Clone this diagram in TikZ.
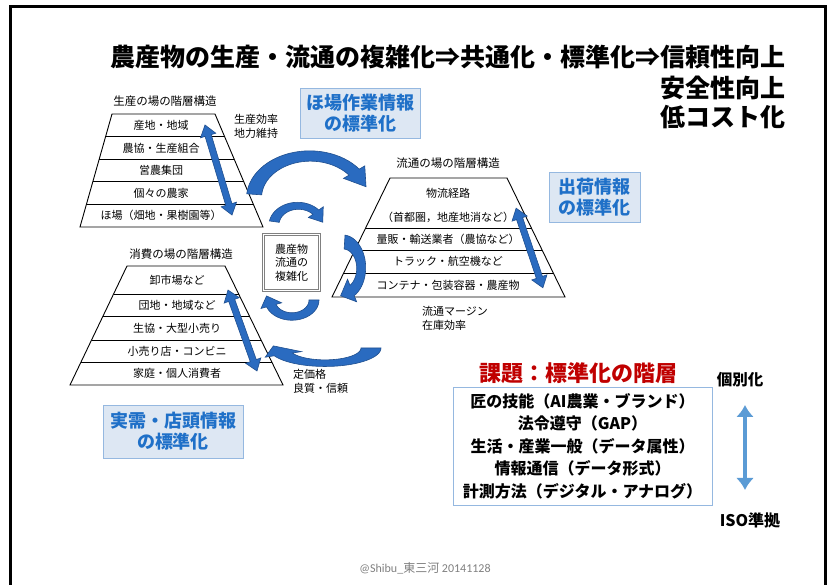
\documentclass[tikz,border=0pt]{standalone}
\usepackage{fontspec}
\setmainfont{Noto Sans CJK JP}
\newfontfamily\carlito{Carlito}
\usetikzlibrary{calc,arrows.meta}
\definecolor{arrowblue}{HTML}{2A6BC0}
\definecolor{arrowedge}{HTML}{1F4F8F}
\definecolor{boxfill}{HTML}{DDE7F3}
\definecolor{boxedge}{HTML}{95B8E0}
\definecolor{boxtext}{HTML}{1F70C8}
\definecolor{lightarrow}{HTML}{5B9BD5}
\definecolor{titlered}{HTML}{C00000}
\tikzset{
 pyr/.style={draw=black, line width=0.9pt, fill=white},
 rowtxt/.style={font=\fontsize{11}{12}\selectfont, inner sep=0pt},
 pyrlabel/.style={font=\fontsize{11.5}{12}\selectfont, inner sep=0pt},
 note/.style={font=\fontsize{11}{14}\selectfont, align=left, anchor=north west, inner sep=0pt},
 infobox/.style={draw=boxedge, fill=boxfill, line width=0.8pt, text=boxtext, font=\bfseries\fontsize{18}{21}\selectfont, align=center, inner sep=0pt},
 cfill/.style={fill=arrowblue, draw=arrowedge, line width=0.6pt},
 bigtitle/.style={font=\bfseries\fontsize{25}{30}\selectfont, inner sep=0pt},
}
% straight double block arrow: #1 centre, #2 rotation, #3 length
\newcommand{\dblock}[3]{%
\begin{scope}[shift={#1}, rotate=#2]
\filldraw[cfill] ({-#3/2},0) -- ({-#3/2+11},-8) -- ({-#3/2+11},-3.2) -- ({#3/2-11},-3.2) -- ({#3/2-11},-8)
  -- ({#3/2},0) -- ({#3/2-11},8) -- ({#3/2-11},3.2) -- ({-#3/2+11},3.2) -- ({-#3/2+11},8) -- cycle;
\end{scope}}
% curved block arrow: #1 scope opts, #2 R, #3 a0, #4 a1, #5 w0, #6 w1, #7 head extra, #8 tip angle, #9 tip radius
\newcommand{\carrow}[9]{%
\begin{scope}[#1]
\filldraw[cfill] plot[domain=#3:#4, samples=30, variable=\t] ({(#2+(#5+(#6-(#5))*(\t-(#3))/((#4)-(#3)))/2)*cos(\t)}, {(#2+(#5+(#6-(#5))*(\t-(#3))/((#4)-(#3)))/2)*sin(\t)})
 -- ({(#2+#6/2+#7)*cos(#4)},{(#2+#6/2+#7)*sin(#4)})
 -- ({#9*cos(#8)},{#9*sin(#8)})
 -- ({(#2-#6/2-#7)*cos(#4)},{(#2-#6/2-#7)*sin(#4)})
 -- plot[domain=#4:#3, samples=30, variable=\t] ({(#2-(#5+(#6-(#5))*(\t-(#3))/((#4)-(#3)))/2)*cos(\t)}, {(#2-(#5+(#6-(#5))*(\t-(#3))/((#4)-(#3)))/2)*sin(\t)})
 -- cycle;
\end{scope}}
\begin{document}
\begin{tikzpicture}[x=1pt,y=-1pt]
\useasboundingbox (0,0) rectangle (831,585);
\fill[white] (0,0) rectangle (831,585);
% frame
\draw[line width=3pt] (10,585) -- (10,7) -- (825,7) -- (825,585);

% titles
\node[bigtitle, anchor=east] (title) at (786,57) {農産物の生産・流通の複雑化⇒共通化・標準化⇒信頼性向上};
\node[bigtitle, anchor=west] (t2) at (660,88) {安全性向上};
\node[bigtitle, anchor=west] (t3) at (660,117) {低コスト化};

% ---------- left pyramid (production)
\coordinate (LTl) at (112,114); \coordinate (LTr) at (215,114);
\coordinate (LBl) at (80,227);  \coordinate (LBr) at (263,227);
\draw[pyr] (LTl) -- (LTr) -- (LBr) -- (LBl) -- cycle;
\foreach \f in {0.2,0.4,0.6,0.8}
  \draw[line width=0.9pt] ($(LTl)!\f!(LBl)$) -- ($(LTr)!\f!(LBr)$);
\node[pyrlabel] (lpl) at (165,101) {生産の場の階層構造};
\node[rowtxt] (l1) at (161,125.3) {産地・地域};
\node[rowtxt] (l2) at (161,147.9) {農協・生産組合};
\node[rowtxt] (l3) at (161,170.5) {営農集団};
\node[rowtxt] (l4) at (161,193.1) {個々の農家};
\node[rowtxt] (l5) at (161,215.7) {ほ場（畑地・果樹園等）};
\dblock{(218.5,170)}{-73.3}{94}
\node[note] (lnote) at (234,114) {生産効率\\地力維持};

% ---------- right pyramid (distribution)
\coordinate (RTl) at (390,178); \coordinate (RTr) at (507,178);
\coordinate (RBl) at (332,297); \coordinate (RBr) at (565,297);
\draw[pyr] (RTl) -- (RTr) -- (RBr) -- (RBl) -- cycle;
\foreach \f in {0.420,0.605,0.798}
  \draw[line width=0.9pt] ($(RTl)!\f!(RBl)$) -- ($(RTr)!\f!(RBr)$);
\node[pyrlabel] (rpl) at (448,163) {流通の場の階層構造};
\node[rowtxt] (r1) at (448,193) {物流経路};
\node[rowtxt] (r1b) at (448,217) {（首都圏，地産地消など）};
\node[rowtxt] (r2) at (448,239) {量販・輸送業者（農協など）};
\node[rowtxt] (r3) at (448,261.5) {トラック・航空機など};
\node[rowtxt] (r4) at (448,285) {コンテナ・包装容器・農産物};
\dblock{(529.5,248)}{-71.4}{84}
\node[note] (rnote) at (422,306) {流通マージン\\在庫効率};

% ---------- bottom pyramid (consumption)
\coordinate (BTl) at (127,266); \coordinate (BTr) at (225,266);
\coordinate (BBl) at (70,385);  \coordinate (BBr) at (283,385);
\draw[pyr] (BTl) -- (BTr) -- (BBr) -- (BBl) -- cycle;
\foreach \f in {0.235,0.420,0.622,0.807}
  \draw[line width=0.9pt] ($(BTl)!\f!(BBl)$) -- ($(BTr)!\f!(BBr)$);
\node[pyrlabel] (bpl) at (181,254) {消費の場の階層構造};
\node[rowtxt] (b1) at (177,280) {卸市場など};
\node[rowtxt] (b2) at (177,305) {団地・地域など};
\node[rowtxt] (b3) at (177,328) {生協・大型小売り};
\node[rowtxt] (b4) at (177,351) {小売り店・コンビニ};
\node[rowtxt] (b5) at (177,373.5) {家庭・個人消費者};
\dblock{(242.5,330.5)}{-70.3}{86}
\node[note] (bnote) at (293,369) {定価格\\良質・信頼};

% ---------- middle box
\node[draw=gray, double=white, double distance=1.2pt, line width=0.8pt, minimum width=56pt, minimum height=56pt, align=center, font=\fontsize{11}{13.5}\selectfont, inner sep=0pt] (cx) at (291.5,262.5) {農産物\\流通の\\複雑化};

% ---------- curved arrows
\carrow{shift={(310,198)}, yscale=0.75}{56}{185}{322}{15}{13}{7}{345}{58}
\carrow{shift={(298,225)}, yscale=0.8}{24}{190}{318}{10}{8}{6}{352}{25}
\carrow{shift={(343,268)}, xscale=0.7}{26}{-85}{60}{14}{12}{7}{97}{28}
\carrow{shift={(292,300)}, yscale=0.75}{22}{0}{160}{10}{10}{6}{192}{26}
\carrow{shift={(325,348)}, yscale=0.33}{46}{0}{155}{20}{20}{10}{187}{52}

% ---------- info boxes
\node[infobox, minimum width=120pt, minimum height=50pt] (hojo) at (360,113) {ほ場作業情報\\の標準化};
\node[infobox, minimum width=91pt, minimum height=50pt] (shukka) at (594.5,197) {出荷情報\\の標準化};
\node[infobox, minimum width=140pt, minimum height=53pt] (jitsuju) at (173,431.5) {実需・店頭情報\\の標準化};

% ---------- issues
\node[font=\bfseries\fontsize{22}{26}\selectfont, text=titlered, inner sep=0pt] (kadai) at (578,373) {課題：標準化の階層};
\node[draw=boxedge, line width=0.8pt, minimum width=259pt, minimum height=118pt, align=center, font=\bfseries\fontsize{16}{22.5}\selectfont, inner sep=0pt] (levels) at (582.5,446) {匠の技能（AI農業・ブランド）\\法令遵守（GAP）\\生活・産業一般（データ属性）\\情報通信（データ形式）\\計測方法（デジタル・アナログ）};
\node[font=\bfseries\fontsize{15.5}{18}\selectfont, inner sep=0pt] (kobetsu) at (740,380) {個別化};
\node[font=\bfseries\fontsize{16}{18}\selectfont, inner sep=0pt] (iso) at (750,520) {ISO準拠};
\coordinate (ua) at (745,405);
\coordinate (da) at (745,490);
\draw[lightarrow, line width=4pt, {Latex[length=12pt,width=18pt]}-{Latex[length=12pt,width=18pt]}] (ua) -- (da);

% footer
\node[text=gray, font=\fontsize{12}{14}\selectfont, inner sep=0pt] (foot) at (425,568) {{\carlito @Shibu\_}東三河{\carlito{} 20141128}};
\end{tikzpicture}
\end{document}
